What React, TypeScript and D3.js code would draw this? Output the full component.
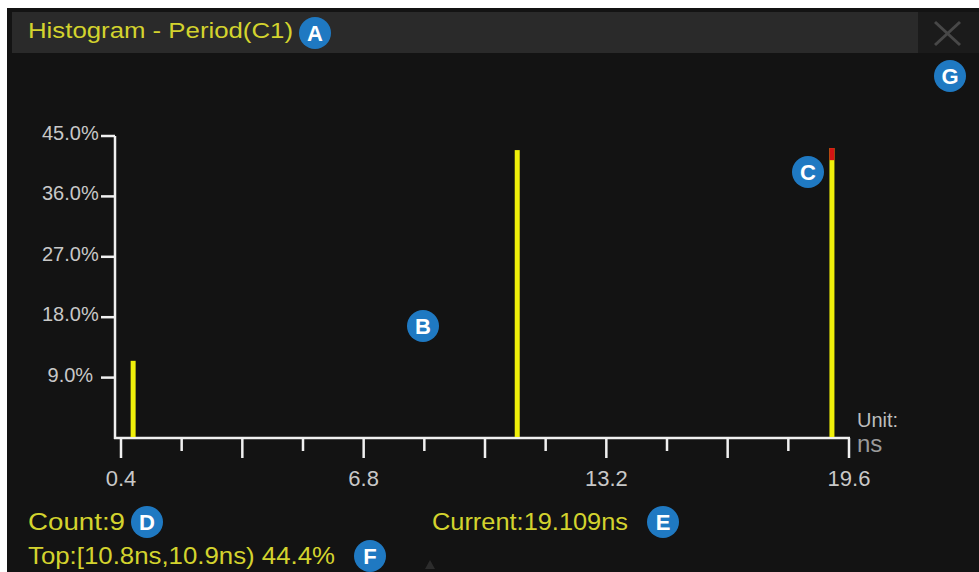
import React from "react";
import * as d3 from "d3";

const xDomain: [number, number] = [0.4, 19.6];
const yDomain: [number, number] = [0, 45];
const xTickValues = [0.4, 2.0, 3.6, 5.2, 6.8, 8.4, 10.0, 11.6, 13.2, 14.8, 16.4, 18.0, 19.6];
const xLabelValues = [0.4, 6.8, 13.2, 19.6];
const yTickValues = [9, 18, 27, 36, 45];
const binCenters = [0.72, 10.85, 19.15];
const binPercents = [11.5, 42.9, 43.2];
const currentBinIndex = 2;
const currentCapPercent = 1.8;
const titleText = "Histogram - Period(C1)";
const countText = "Count:9";
const currentText = "Current:19.109ns";
const topText = "Top:[10.8ns,10.9ns) 44.4%";
const badges = [
  { id: "A", x: 315, y: 33 },
  { id: "B", x: 423, y: 326 },
  { id: "C", x: 808, y: 172 },
  { id: "D", x: 147, y: 522 },
  { id: "E", x: 663, y: 522 },
  { id: "F", x: 370, y: 556 },
  { id: "G", x: 950, y: 76 },
];

const FONT = "'Liberation Sans', Arial, sans-serif";
const YELLOW_TEXT = "#d3d32e";
const BAR = "#f0f00a";

export default function App() {
  const W = 979;
  const H = 572;
  const x = d3.scaleLinear().domain(xDomain).range([121, 849]);
  const y = d3.scaleLinear().domain(yDomain).range([438, 136]);
  const axisX = 115;
  const barW = 5;

  return (
    <svg
      width={W}
      height={H}
      style={{ position: "absolute", left: 0, top: 0, display: "block" }}
      fontFamily={FONT}
    >
      <rect x={0} y={0} width={W} height={H} fill="#ffffff" />
      <rect x={7} y={8} width={W - 7} height={H - 8} fill="#131313" />
      {/* title bar */}
      <rect x={12} y={12} width={906} height={41} fill="#2a2a2a" />
      <rect x={918} y={12} width={61} height={41} fill="#1b1b1b" />
      <line x1={935} y1={22} x2={960} y2={45} stroke="#484848" strokeWidth={3} />
      <line x1={960} y1={22} x2={935} y2={45} stroke="#484848" strokeWidth={3} />
      <text
        x={28}
        y={38}
        fontSize={22}
        fill={YELLOW_TEXT}
        textLength={265}
        lengthAdjust="spacingAndGlyphs"
      >
        {titleText}
      </text>

      {/* axes */}
      <line x1={axisX} y1={y(45)} x2={axisX} y2={y(0) + 1} stroke="#f0f0f0" strokeWidth={2.5} />
      <line x1={axisX - 1} y1={y(0)} x2={x(19.6) + 1} y2={y(0)} stroke="#f0f0f0" strokeWidth={2.5} />
      {yTickValues.map((v) => (
        <g key={"yt" + v}>
          <line x1={101} y1={y(v)} x2={axisX} y2={y(v)} stroke="#f0f0f0" strokeWidth={2.5} />
          <text
            x={42}
            y={y(v) + 4}
            fontSize={20}
            fill="#c8c8c8"
            style={{ whiteSpace: "pre" }}
          >
            {(v < 10 ? " " : "") + v.toFixed(1) + "%"}
          </text>
        </g>
      ))}
      {xTickValues.map((v, i) => (
        <line
          key={"xt" + i}
          x1={x(v)}
          y1={y(0)}
          x2={x(v)}
          y2={y(0) + (i % 2 === 0 ? 20 : 13)}
          stroke="#f0f0f0"
          strokeWidth={2.5}
        />
      ))}
      {xLabelValues.map((v) => (
        <text key={"xl" + v} x={x(v)} y={486} fontSize={22} fill="#c8c8c8" textAnchor="middle">
          {v.toFixed(1)}
        </text>
      ))}
      <text x={857} y={427} fontSize={20} fill="#bdbdbd">
        Unit:
      </text>
      <text x={857} y={452} fontSize={24} fill="#9a9a9a">
        ns
      </text>

      {/* bars */}
      {binCenters.map((c, i) => (
        <g key={"b" + i}>
          <rect
            x={x(c) - barW / 2}
            y={y(binPercents[i])}
            width={barW}
            height={y(0) - y(binPercents[i]) - 1}
            fill={BAR}
          />
          {i === currentBinIndex && (
            <rect
              x={x(c) - barW / 2}
              y={y(binPercents[i])}
              width={barW}
              height={y(binPercents[i] - currentCapPercent) - y(binPercents[i])}
              fill="#d41414"
            />
          )}
        </g>
      ))}

      {/* readouts */}
      <text x={28} y={530} fontSize={24} fill={YELLOW_TEXT} textLength={97} lengthAdjust="spacingAndGlyphs">
        {countText}
      </text>
      <text x={432} y={530} fontSize={24} fill={YELLOW_TEXT} textLength={196} lengthAdjust="spacingAndGlyphs">
        {currentText}
      </text>
      <text x={28} y={564} fontSize={24} fill={YELLOW_TEXT} textLength={307} lengthAdjust="spacingAndGlyphs">
        {topText}
      </text>
      <path d="M430,560 L435,569 L425,569 Z" fill="#2c2c2c" />

      {/* badges */}
      {badges.map((b) => (
        <g key={b.id}>
          <circle cx={b.x} cy={b.y} r={16} fill="#1f79c2" />
          <text
            x={b.x}
            y={b.y + 8}
            fontSize={22}
            fontWeight="bold"
            fill="#ffffff"
            textAnchor="middle"
          >
            {b.id}
          </text>
        </g>
      ))}
    </svg>
  );
}
